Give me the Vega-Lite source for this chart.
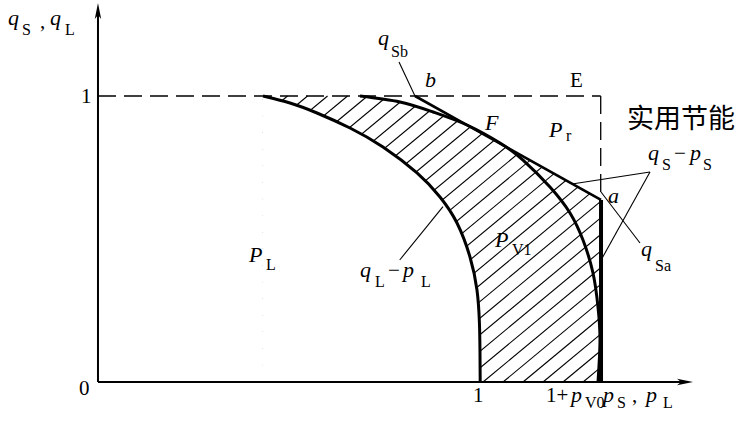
{
  "$schema": "https://vega.github.io/schema/vega-lite/v6.json",
  "width": 745,
  "height": 421,
  "autosize": "none",
  "padding": 0,
  "background": "white",
  "config": {"view": {"stroke": null}},
  "encoding": {
    "x": {"field": "x", "type": "quantitative", "scale": {"domain": [-0.2565, 1.6937], "nice": false, "zero": false}, "axis": null},
    "y": {"field": "y", "type": "quantitative", "scale": {"domain": [-0.1364, 1.3357], "nice": false, "zero": false}, "axis": null}
  },
  "layer": [
    {
      "data": {"values": [
        {"x": 0.432, "y": 0.9869, "x2": 0.4438, "y2": 1},
        {"x": 0.432, "y": 0.9288, "x2": 0.4962, "y2": 1},
        {"x": 0.432, "y": 0.8708, "x2": 0.5485, "y2": 1},
        {"x": 0.432, "y": 0.8127, "x2": 0.6009, "y2": 1},
        {"x": 0.432, "y": 0.7546, "x2": 0.6533, "y2": 1},
        {"x": 0.432, "y": 0.6966, "x2": 0.7056, "y2": 1},
        {"x": 0.432, "y": 0.6386, "x2": 0.758, "y2": 1},
        {"x": 0.432, "y": 0.5806, "x2": 0.8103, "y2": 1},
        {"x": 0.432, "y": 0.5225, "x2": 0.8627, "y2": 1},
        {"x": 0.432, "y": 0.4644, "x2": 0.9151, "y2": 1},
        {"x": 0.432, "y": 0.4064, "x2": 0.9674, "y2": 1},
        {"x": 0.432, "y": 0.3483, "x2": 1.0198, "y2": 1},
        {"x": 0.432, "y": 0.2903, "x2": 1.0721, "y2": 1},
        {"x": 0.432, "y": 0.2323, "x2": 1.1245, "y2": 1},
        {"x": 0.432, "y": 0.1742, "x2": 1.1769, "y2": 1},
        {"x": 0.432, "y": 0.1162, "x2": 1.2292, "y2": 1},
        {"x": 0.432, "y": 0.0581, "x2": 1.2816, "y2": 1},
        {"x": 0.4319, "y": 0, "x2": 1.316, "y2": 0.9801},
        {"x": 0.4843, "y": 0, "x2": 1.316, "y2": 0.922},
        {"x": 0.5367, "y": 0, "x2": 1.316, "y2": 0.8639},
        {"x": 0.589, "y": 0, "x2": 1.316, "y2": 0.806},
        {"x": 0.6414, "y": 0, "x2": 1.316, "y2": 0.7479},
        {"x": 0.6937, "y": 0, "x2": 1.316, "y2": 0.6899},
        {"x": 0.7461, "y": 0, "x2": 1.316, "y2": 0.6318},
        {"x": 0.7985, "y": 0, "x2": 1.316, "y2": 0.5737},
        {"x": 0.8508, "y": 0, "x2": 1.316, "y2": 0.5157},
        {"x": 0.9032, "y": 0, "x2": 1.316, "y2": 0.4576},
        {"x": 0.9555, "y": 0, "x2": 1.316, "y2": 0.3996},
        {"x": 1.0079, "y": 0, "x2": 1.316, "y2": 0.3416},
        {"x": 1.0603, "y": 0, "x2": 1.316, "y2": 0.2835},
        {"x": 1.1126, "y": 0, "x2": 1.316, "y2": 0.2255},
        {"x": 1.165, "y": 0, "x2": 1.316, "y2": 0.1674},
        {"x": 1.2173, "y": 0, "x2": 1.316, "y2": 0.1094},
        {"x": 1.2697, "y": 0, "x2": 1.316, "y2": 0.0513}
      ]},
      "mark": {"type": "rule", "color": "black", "strokeWidth": 1.1},
      "encoding": {"x2": {"field": "x2"}, "y2": {"field": "y2"}}
    },
    {
      "data": {"values": [
        {"x": 0.432, "y": 1.0},
        {"x": 0.5026, "y": 0.9755},
        {"x": 0.5733, "y": 0.9406},
        {"x": 0.6597, "y": 0.8881},
        {"x": 0.7461, "y": 0.8217},
        {"x": 0.8351, "y": 0.7308},
        {"x": 0.8953, "y": 0.6469},
        {"x": 0.9398, "y": 0.5559},
        {"x": 0.9738, "y": 0.4371},
        {"x": 0.9921, "y": 0.3217},
        {"x": 0.9985, "y": 0.2063},
        {"x": 1.0, "y": 0.1},
        {"x": 1.0005, "y": 0}
      ]},
      "layer": [
        {
          "mark": {"type": "area", "color": "white", "opacity": 1, "interpolate": "natural"},
          "encoding": {"y2": {"datum": 0}}
        },
        {
          "mark": {"type": "line", "color": "black", "strokeWidth": 3, "interpolate": "natural"}
        }
      ]
    },
    {
      "data": {"values": [
        {"x": 0.6859, "y": 1.0},
        {"x": 0.7906, "y": 0.979},
        {"x": 0.877, "y": 0.9441},
        {"x": 0.966, "y": 0.8986},
        {"x": 1.0524, "y": 0.8357},
        {"x": 1.3168, "y": 0.6364}
      ]},
      "mark": {"type": "area", "color": "white", "opacity": 1},
      "encoding": {"y2": {"datum": 1.03}}
    },
    {
      "data": {"values": [
        {"i": 1, "x": 0.6859, "y": 1.0},
        {"i": 2, "x": 0.7906, "y": 0.979},
        {"i": 3, "x": 0.877, "y": 0.9441},
        {"i": 4, "x": 0.966, "y": 0.8986},
        {"i": 5, "x": 1.0524, "y": 0.8357},
        {"i": 6, "x": 1.1126, "y": 0.7762},
        {"i": 7, "x": 1.1832, "y": 0.6818},
        {"i": 8, "x": 1.2356, "y": 0.5909},
        {"i": 9, "x": 1.2696, "y": 0.4965},
        {"i": 10, "x": 1.2958, "y": 0.3811},
        {"i": 11, "x": 1.3089, "y": 0.2622},
        {"i": 12, "x": 1.3141, "y": 0.1469},
        {"i": 13, "x": 1.3089, "y": 0}
      ]},
      "mark": {"type": "line", "color": "black", "strokeWidth": 3, "interpolate": "natural"},
      "encoding": {"order": {"field": "i"}}
    },
    {
      "data": {"values": [
        {"x": 0, "y": 1, "x2": 1.316, "y2": 1},
        {"x": 1.316, "y": 1, "x2": 1.316, "y2": 0.6364}
      ]},
      "mark": {"type": "rule", "color": "black", "strokeWidth": 1.3, "strokeDash": [18, 8]},
      "encoding": {"x2": {"field": "x2"}, "y2": {"field": "y2"}}
    },
    {
      "data": {"values": [
        {"x": 0.8298, "y": 1.0, "x2": 1.3168, "y2": 0.6364}
      ]},
      "mark": {"type": "rule", "color": "black", "strokeWidth": 2.6},
      "encoding": {"x2": {"field": "x2"}, "y2": {"field": "y2"}}
    },
    {
      "data": {"values": [
        {"x": 1.3168, "y": 0.6364, "x2": 1.3168, "y2": 0}
      ]},
      "mark": {"type": "rule", "color": "black", "strokeWidth": 4},
      "encoding": {"x2": {"field": "x2"}, "y2": {"field": "y2"}}
    },
    {
      "data": {"values": [
        {"x": 0, "y": 0, "x2": 1.54, "y2": 0},
        {"x": 0, "y": 0, "x2": 0, "y2": 1.30}
      ]},
      "mark": {"type": "rule", "color": "black", "strokeWidth": 2},
      "encoding": {"x2": {"field": "x2"}, "y2": {"field": "y2"}}
    },
    {
      "data": {"values": [{"x": 1.5576, "y": 0}]},
      "mark": {"type": "point", "filled": true, "color": "black", "opacity": 1, "size": 1024, "shape": "M0,0L-1,-0.2L-0.75,0L-1,0.2Z"}
    },
    {
      "data": {"values": [{"x": 0, "y": 1.3252}]},
      "mark": {"type": "point", "filled": true, "color": "black", "opacity": 1, "size": 1024, "shape": "M0,0L-0.2,1L0,0.75L0.2,1Z"}
    },
    {
      "data": {"values": [
        {"x": 0.788, "y": 1.119, "x2": 0.8298, "y2": 1.0},
        {"x": 1.445, "y": 0.7343, "x2": 1.2408, "y2": 0.6923},
        {"x": 1.445, "y": 0.7343, "x2": 1.3141, "y2": 0.4196},
        {"x": 1.3168, "y": 0.6643, "x2": 1.4188, "y2": 0.486},
        {"x": 0.7898, "y": 0.4266, "x2": 0.9031, "y2": 0.6129}
      ]},
      "mark": {"type": "rule", "color": "black", "strokeWidth": 1.1},
      "encoding": {"x2": {"field": "x2"}, "y2": {"field": "y2"}}
    },
    {
      "data": {"values": [
        {"x": -0.2356, "y": 1.2483, "t": "q"},
        {"x": -0.1257, "y": 1.2483, "t": "q"},
        {"x": 1.2382, "y": -0.0699, "t": "p"},
        {"x": 1.322, "y": -0.0699, "t": "p"},
        {"x": 1.4346, "y": -0.0699, "t": "p"},
        {"x": 0.733, "y": 1.1783, "t": "q"},
        {"x": 0.856, "y": 1.0315, "t": "b"},
        {"x": 1.0131, "y": 0.8811, "t": "F"},
        {"x": 1.1806, "y": 0.8566, "t": "P"},
        {"x": 1.4398, "y": 0.7762, "t": "q"},
        {"x": 1.5497, "y": 0.7762, "t": "p"},
        {"x": 1.3351, "y": 0.6259, "t": "a"},
        {"x": 1.4215, "y": 0.4406, "t": "q"},
        {"x": 1.0393, "y": 0.472, "t": "P"},
        {"x": 0.3953, "y": 0.4196, "t": "P"},
        {"x": 0.6859, "y": 0.3671, "t": "q"},
        {"x": 0.7984, "y": 0.3671, "t": "p"}
      ]},
      "mark": {"type": "text", "font": "Liberation Serif", "fontSize": 22, "fontStyle": "italic", "align": "left", "baseline": "alphabetic", "color": "black"},
      "encoding": {"text": {"field": "t"}}
    },
    {
      "data": {"values": [
        {"x": -0.0445, "y": 0.9755, "t": "1"},
        {"x": -0.0497, "y": -0.0455, "t": "0"},
        {"x": 0.9817, "y": -0.0699, "t": "1"},
        {"x": 1.1728, "y": -0.0699, "t": "1+"},
        {"x": -0.1518, "y": 1.2378, "t": ","},
        {"x": 1.3979, "y": -0.0699, "t": ","},
        {"x": 1.2356, "y": 1.0315, "t": "E"},
        {"x": 1.5079, "y": 0.7762, "t": "−"},
        {"x": 0.7592, "y": 0.3671, "t": "−"}
      ]},
      "mark": {"type": "text", "font": "Liberation Serif", "fontSize": 21, "align": "left", "baseline": "alphabetic", "color": "black"},
      "encoding": {"text": {"field": "t"}}
    },
    {
      "data": {"values": [
        {"x": -0.199, "y": 1.2133, "t": "S"},
        {"x": -0.0864, "y": 1.2133, "t": "L"},
        {"x": 1.2749, "y": -0.0909, "t": "V0"},
        {"x": 1.3586, "y": -0.0909, "t": "S"},
        {"x": 1.4791, "y": -0.0909, "t": "L"},
        {"x": 0.767, "y": 1.1364, "t": "Sb"},
        {"x": 1.2251, "y": 0.8427, "t": "r"},
        {"x": 1.4764, "y": 0.7413, "t": "S"},
        {"x": 1.5838, "y": 0.7413, "t": "S"},
        {"x": 1.4581, "y": 0.3881, "t": "Sa"},
        {"x": 1.0838, "y": 0.4441, "t": "V1"},
        {"x": 0.4398, "y": 0.3916, "t": "L"},
        {"x": 0.7251, "y": 0.3322, "t": "L"},
        {"x": 0.8455, "y": 0.3322, "t": "L"}
      ]},
      "mark": {"type": "text", "font": "Liberation Serif", "fontSize": 16, "align": "left", "baseline": "alphabetic", "color": "black"},
      "encoding": {"text": {"field": "t"}}
    },
    {
      "data": {"values": [
        {"x": 1.3848, "y": 0.9161, "t": "实用节能"}
      ]},
      "mark": {"type": "text", "font": "Noto Sans CJK SC", "fontSize": 27, "align": "left", "baseline": "middle", "color": "black"},
      "encoding": {"text": {"field": "t"}}
    }
  ]
}
